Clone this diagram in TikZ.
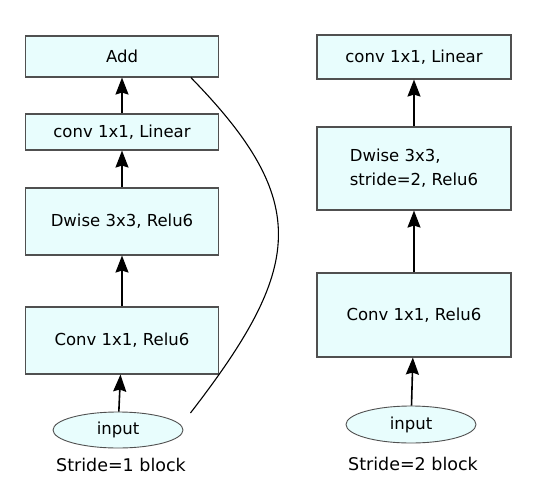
\documentclass[tikz,border=0pt]{standalone}
\usepackage{fontspec}
\setmainfont{DejaVu Sans}
\usepackage{tikz}
\usetikzlibrary{
    shapes.geometric,
    arrows.meta,
    calc
}
\definecolor{capafill}{RGB}{232,253,253}
\definecolor{capaborde}{RGB}{80,80,80}
\tikzset{
    >={Stealth[length=17pt,width=13pt,inset=2pt]},
    capa/.style={
        draw=capaborde,
        fill=capafill,
        line width=1.1pt,
        minimum width=193pt,
        inner sep=0pt,
        font=\fontsize{16.5}{24}\selectfont
    },
    entrada/.style={
        ellipse,
        draw=capaborde,
        fill=capafill,
        line width=0.9pt,
        minimum width=130pt,
        minimum height=36pt,
        inner sep=0pt,
        font=\fontsize{16.5}{20}\selectfont
    },
    titulo/.style={
        inner sep=0pt,
        font=\fontsize{17.5}{20}\selectfont
    }
}

\begin{document}
\begin{tikzpicture}[
    x=1pt,
    y=-1pt,
    line width=1.6pt
]
    \useasboundingbox (0,0) rectangle (533,490);

    % Bloque stride 1
    \node[capa, minimum height=41pt] (addA) at (122,56.5)  {Add};
    \node[capa, minimum height=36pt] (linA) at (122,132)   {conv 1x1, Linear};
    \node[capa, minimum height=67pt] (dwA)  at (122,221.5) {Dwise 3x3, Relu6};
    \node[capa, minimum height=67pt] (cvA)  at (122,340.5) {Conv 1x1, Relu6};
    \node[entrada]                   (inA)  at (118,430)   {input};
    \node[titulo]                    (lblA) at (121,465)   {Stride=1 block};
    \coordinate (atajo) at ($(inA.east)+(7,-17)$);

    % Bloque stride 2
    \node[capa, minimum width=194pt, minimum height=44pt] (linB) at (414,57)    {conv 1x1, Linear};
    \node[capa, minimum width=194pt, minimum height=83pt, align=left]
                                                          (dwB)  at (414,168.5) {Dwise 3x3,\\stride=2, Relu6};
    \node[capa, minimum width=194pt, minimum height=84pt] (cvB)  at (414,315)   {Conv 1x1, Relu6};
    \node[entrada, minimum height=37pt]                   (inB)  at (411,424.5) {input};
    \node[titulo]                                         (lblB) at (413,464)   {Stride=2 block};

    % Flechas
    \path[->]
        (inA) edge (cvA)
        (cvA) edge (dwA)
        (dwA) edge (linA)
        (linA) edge (addA)

        (inB) edge (cvB)
        (cvB) edge (dwB)
        (dwB) edge (linB);

    % Conexion residual
    \draw[line width=1.1pt] (atajo)
        .. controls +(112,-145) and +(122,125) .. (addA.-17);

\end{tikzpicture}
\end{document}
